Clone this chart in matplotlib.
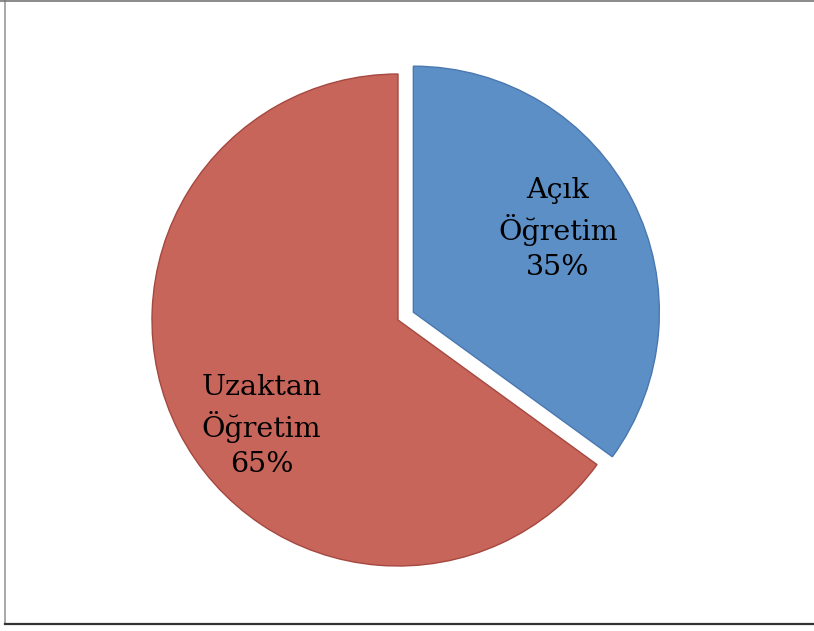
import matplotlib.pyplot as plt
from matplotlib.lines import Line2D

# data
names = ["Açık\nÖğretim", "Uzaktan\nÖğretim"]
shares = [35, 65]
colors = ["#5B8FC6", "#C8655B"]
edges = ["#4A78AE", "#A5483F"]
explode = [0.07, 0]

fig = plt.figure(figsize=(8.14, 6.31), dpi=100)
ax = fig.add_axes([0, 0, 1, 1])

labels = [f"{n}\n{v}%" for n, v in zip(names, shares)]
wedges, texts = ax.pie(shares, labels=labels, colors=colors, explode=explode,
                       startangle=90, counterclock=False, labeldistance=0.69,
                       wedgeprops=dict(linewidth=1.0),
                       textprops=dict(fontsize=20.5, family="DejaVu Serif",
                                      linespacing=1.38))
for w, ec in zip(wedges, edges):
    w.set_edgecolor(ec)
for t in texts:
    t.set_ha("center")
    t.set_va("center")
# place labels where the original has them
texts[0].set_position((0.65, 0.37))
texts[1].set_position((-0.555, -0.43))

ax.set_xlim(-398 / 246, 416 / 246)
ax.set_ylim(-311 / 246, 320 / 246)
ax.set_aspect("auto")
ax.axis("off")

# frame lines around the chart
fig.add_artist(Line2D([5 / 814, 5 / 814], [7 / 631, 1], color="#999999", lw=1.2))
fig.add_artist(Line2D([5 / 814, 1], [7 / 631, 7 / 631], color="#333333", lw=1.6))
fig.add_artist(Line2D([0, 1], [0.999, 0.999], color="#777777", lw=1.2))

fig.savefig("out.png", dpi=100)
